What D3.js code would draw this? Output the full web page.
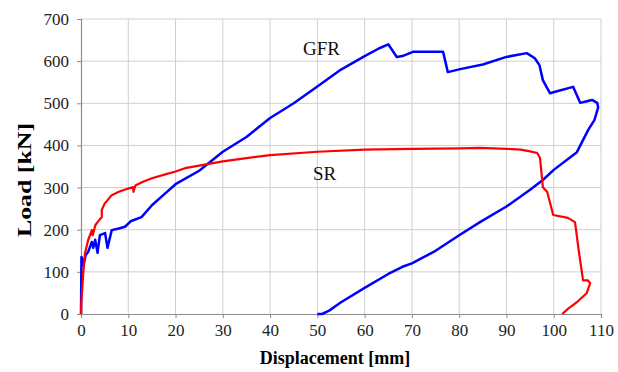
<!DOCTYPE html>
<html>
<head>
<meta charset="utf-8">
<script src="https://d3js.org/d3.v7.min.js"></script>
<style>
body { margin: 0; background: #fff; }
</style>
</head>
<body>
<div id="chart"></div>
<script>
// tick values
var xTicks = [0, 10, 20, 30, 40, 50, 60, 70, 80, 90, 100, 110];
var yTicks = [0, 100, 200, 300, 400, 500, 600, 700];

// GFR curve (displacement mm, load kN)
var gfrX = [0, 0.1, 0.3, 0.5, 1, 1.5, 2.3, 2.6, 3, 3.5, 4, 5.1, 5.6, 6.5, 8, 9.3, 10.5, 12.8, 15, 18, 20, 25, 30, 35, 40, 45, 50, 55, 60, 63, 65, 66.8, 68, 70.2, 72, 76.6, 77.6, 80.2, 85, 90, 94.3, 96, 97, 97.7, 99.2, 100.9, 104.1, 105.6, 107, 108.1, 109.2, 109.4, 108.6, 107.3, 104.9, 100, 97.7, 95, 90, 84.4, 80, 75, 70, 68, 65, 60, 55, 52.5, 51, 50];
var gfrY = [0, 135, 130, 116, 140, 147, 171, 157, 176, 145, 187, 192, 157, 199, 203, 207, 220, 230, 258, 288, 308, 340, 385, 420, 465, 500, 540, 580, 612, 630, 640, 610, 612, 622, 622, 622, 574, 581, 592, 610, 619, 607, 590, 555, 524, 529, 539, 501, 505, 508, 501, 490, 460, 437, 384, 342, 318, 295, 255, 218, 187, 150, 120, 112, 95, 62, 28, 8, 0, 0];

// SR curve
var srX = [0, 0.1, 0.5, 0.85, 1.5, 2.3, 2.5, 3, 3.5, 4.4, 4.4, 5, 6.5, 8, 9.5, 11, 11.1, 11.5, 13, 15, 18, 20, 22, 25, 30, 35, 40, 50, 60, 70, 80, 84.4, 90, 93, 95, 96.5, 97.1, 97.7, 98.6, 99.9, 103, 104.5, 105.3, 106.2, 107.2, 107.7, 107, 104.9, 103, 101.8];
var srY = [0, 33, 100, 145, 175, 199, 187, 210, 218, 230, 247, 262, 282, 290, 296, 301, 290, 305, 313, 322, 332, 338, 346, 352, 362, 370, 377, 385, 390, 392, 393, 394, 392, 390, 386, 382, 370, 301, 290, 235, 228, 218, 150, 80, 80, 73, 50, 28, 12, 0];

var W = 618, H = 372;
var margin = {top: 19, right: 17, bottom: 58, left: 81};
var width = W - margin.left - margin.right,
    height = H - margin.top - margin.bottom;
var serif = "'Liberation Serif', 'Times New Roman', serif";

var svg = d3.select("#chart").append("svg")
  .attr("width", W)
  .attr("height", H)
  .attr("font-family", serif);

var g = svg.append("g")
  .attr("transform", "translate(" + margin.left + "," + margin.top + ")");

var x = d3.scaleLinear().domain([0, 110]).range([0, width]);
var y = d3.scaleLinear().domain([0, 700]).range([height, 0]);

// grid
g.append("g").selectAll("line")
  .data(xTicks.slice(1))
  .enter().append("line")
  .attr("x1", d => x(d)).attr("x2", d => x(d))
  .attr("y1", 0).attr("y2", height)
  .attr("stroke", "#cfcfcf").attr("stroke-width", 1);
g.append("g").selectAll("line")
  .data(yTicks.slice(1))
  .enter().append("line")
  .attr("x1", 0).attr("x2", width)
  .attr("y1", d => y(d)).attr("y2", d => y(d))
  .attr("stroke", "#cfcfcf").attr("stroke-width", 1);

// axes
var xAxis = g.append("g")
  .attr("transform", "translate(0," + height + ")")
  .call(d3.axisBottom(x).tickValues(xTicks).tickSize(4).tickPadding(6));
var yAxis = g.append("g")
  .call(d3.axisLeft(y).tickValues(yTicks).tickSize(4).tickPadding(8));

[xAxis, yAxis].forEach(function(a) {
  a.attr("font-family", serif).attr("font-size", 17);
  a.select(".domain").attr("stroke", "#8c8c8c").attr("stroke-width", 1.2);
  a.selectAll(".tick line").attr("stroke", "#8c8c8c");
  a.selectAll("text").attr("fill", "#222");
});

// lines
var line = d3.line()
  .x(d => x(d[0]))
  .y(d => y(d[1]));

g.append("path")
  .datum(gfrX.map((v, i) => [v, gfrY[i]]))
  .attr("d", line)
  .attr("fill", "none")
  .attr("stroke", "#0000ff")
  .attr("stroke-width", 2.5)
  .attr("stroke-linejoin", "round");

g.append("path")
  .datum(srX.map((v, i) => [v, srY[i]]))
  .attr("d", line)
  .attr("fill", "none")
  .attr("stroke", "#ff0000")
  .attr("stroke-width", 2.2)
  .attr("stroke-linejoin", "round");

// curve labels
g.append("text")
  .attr("x", 303 - margin.left).attr("y", 55 - margin.top)
  .attr("font-size", 19)
  .attr("fill", "#111")
  .text("GFR");
g.append("text")
  .attr("x", 313 - margin.left).attr("y", 180 - margin.top)
  .attr("font-size", 19)
  .attr("fill", "#111")
  .text("SR");

// axis titles
svg.append("text")
  .attr("x", 335)
  .attr("y", 364)
  .attr("text-anchor", "middle")
  .attr("font-size", 18)
  .attr("font-weight", "bold")
  .text("Displacement [mm]");

svg.append("text")
  .attr("transform", "translate(31,180) rotate(-90)")
  .attr("text-anchor", "middle")
  .attr("font-size", 19)
  .attr("font-weight", "bold")
  .attr("textLength", 114)
  .attr("lengthAdjust", "spacingAndGlyphs")
  .text("Load [kN]");
</script>
</body>
</html>
